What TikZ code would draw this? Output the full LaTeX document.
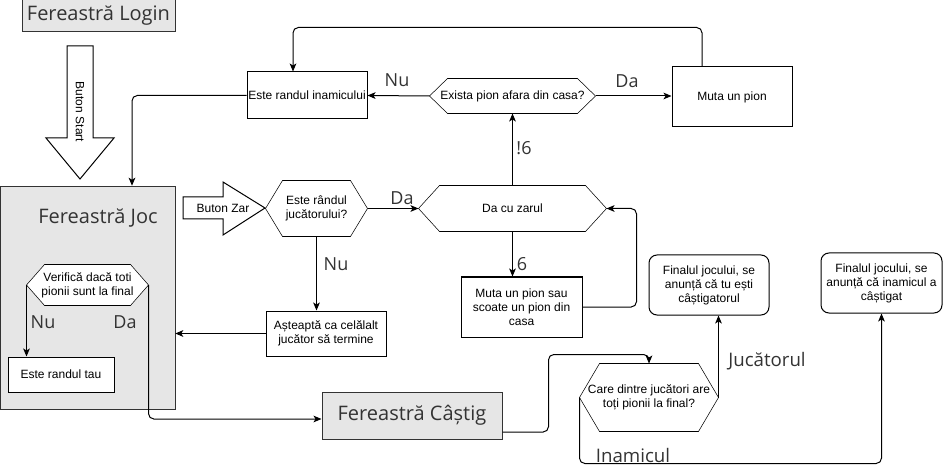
\documentclass[tikz,border=0pt]{standalone}
\usepackage{fontspec}
\setmainfont{Liberation Sans}
\newfontfamily\bigfont{Open Sans}
\usetikzlibrary{arrows.meta,calc,backgrounds}
\definecolor{winfill}{HTML}{E6E6E6}
\tikzset{
	dims/.style 2 args={minimum width=#1*0.75pt, minimum height=#2*0.75pt},
	box/.style={draw, inner sep=0pt, align=center, font=\fontsize{9}{10.5}\selectfont},
	window/.style={draw=black!80, fill=winfill, inner sep=0pt, text=black!80, font=\bigfont\fontsize{15}{18}\selectfont},
	finbox/.style={box, rounded corners=6pt},
	hexnode/.style={inner sep=0pt, align=center, font=\fontsize{9}{10.5}\selectfont},
	lbl/.style={text=black!80, font=\bigfont\fontsize{13.5}{16}\selectfont},
	conn/.style={-{Stealth[length=6pt,width=5pt,inset=1.5pt]}, rounded corners=4pt},
	bigarrow/.style={draw, fill=white, line join=miter}
}
% hexagon border round a node: name, depth of the point
\newcommand\hexa[2]{%
	\begin{scope}[on background layer]
		\filldraw[fill=white] (#1.west) -- ($(#1.north west)+(#2,0)$) -- ($(#1.north east)+(-#2,0)$)
			-- (#1.east) -- ($(#1.south east)+(-#2,0)$) -- ($(#1.south west)+(#2,0)$) -- cycle;
	\end{scope}}
\begin{document}
\begin{tikzpicture}[x=0.75pt, y=-0.75pt, line width=0.75pt]
	\useasboundingbox (0,0) rectangle (943,474);
	% windows
	\node[window, dims={153}{32}] at (98.5,16) (login) {Fereastră Login};
	\begin{scope}[on background layer]
		\node[window, dims={175}{223}] at (87.5,297.5) (joc) {};
	\end{scope}
	\node[text=black!80, font=\bigfont\fontsize{15}{18}\selectfont] at (98,218) (jocTitle) {Fereastră Joc};
	\node[window, dims={180}{47}] at (412,415.5) (castig) {Fereastră Câștig};
	% block arrows
	\draw[bigarrow] (67,46) -- (93,46) -- (93,138) -- (114,138) -- (80,179) -- (46,138) -- (67,138) -- cycle;
	\node[rotate=-90, font=\fontsize{9}{10.5}\selectfont] at (80,112) (btnStart) {Buton Start};
	\draw[bigarrow] (183,197) -- (223,197) -- (223,182) -- (265,208) -- (223,235) -- (223,219) -- (183,219) -- cycle;
	\node[font=\fontsize{9}{10.5}\selectfont] at (223,208) (btnZar) {Buton Zar};
	% inside the game window
	\node[hexnode, dims={121}{40}] at (87.5,285) (verif) {Verifică dacă toti\\pionii sunt la final};
	\hexa{verif}{18}
	\node[box, fill=white, dims={106}{35}] at (61,374.5) (tau) {Este randul tau};
	\node[lbl] at (43,322) (verifNu) {Nu};
	\node[lbl] at (125,322) (verifDa) {Da};
	% player turn
	\node[hexnode, dims={101}{55}] at (316.5,208.5) (jucator) {Este rândul\\jucătorului?};
	\hexa{jucator}{17}
	\node[hexnode, dims={187}{45}] at (512.5,208.5) (zar) {Da cu zarul};
	\hexa{zar}{21}
	\node[box, dims={120}{45}] at (326,333.5) (asteapta) {Așteaptă ca celălalt\\jucător să termine};
	\node[box, dims={121}{60}] at (521.5,307) (muta6) {Muta un pion sau\\scoate un pion din\\casa};
	\node[lbl] at (402,198) (jucDa) {Da};
	\node[lbl] at (336,264) (jucNu) {Nu};
	\node[lbl] at (522,264) (zar6) {6};
	\node[lbl] at (524,148) (zarNot6) {!6};
	% top row
	\node[hexnode, dims={165}{34}] at (512.5,96) (exista) {Exista pion afara din casa?};
	\hexa{exista}{18}
	\node[box, dims={120}{47}] at (307,95.5) (inamic) {Este randul inamicului};
	\node[box, dims={120}{60}] at (732,97) (mutaPion) {Muta un pion};
	\node[lbl] at (397,80) (existaNu) {Nu};
	\node[lbl] at (627,81) (existaDa) {Da};
	% end of game
	\node[hexnode, dims={138}{67}] at (649,397.5) (care) {Care dintre jucători are\\toți pionii la final?};
	\hexa{care}{20}
	\node[finbox, dims={120}{60}] at (709,285) (finTu) {Finalul jocului, se\\anunță că tu ești\\câștigatorul};
	\node[finbox, dims={121}{60}] at (881.5,283) (finInamic) {Finalul jocului, se\\anunță că inamicul a\\câștigat};
	\node[text=black!80, font=\bigfont\fontsize{14}{16}\selectfont] at (767,361) (lblJucator) {Jucătorul};
	\node[text=black!80, font=\bigfont\fontsize{14}{16}\selectfont] at (633,455) (lblInamic) {Inamicul};
	% connectors
	\draw[conn] (verif.west) -- (verif.west |- tau.north);
	\draw[conn] (verif.east) |- ($(castig.west)+(0,3.5)$);
	\draw[conn] (jucator.east) -- (zar.west);
	\draw[conn] (jucator.south) -- (jucator.south |- asteapta.north);
	\draw[conn] (asteapta.west) -- (asteapta.west -| joc.east);
	\draw[conn] (zar.south) -- (zar.south |- muta6.north);
	\draw[conn] (muta6.east) -- ++(54,0) |- (zar.east);
	\draw[conn] (zar.north) -- (exista.south);
	\draw[conn] (exista.west) -- (inamic.east);
	\draw[conn] (exista.east) -- (exista.east -| mutaPion.west);
	\draw[conn] ($(mutaPion.north)+(-30,0)$) -- ++(0,-39) -| ($(inamic.north)+(-14,0)$);
	\draw[conn] (inamic.west) -| ($(joc.north)+(44.5,0)$);
	\draw[conn] ($(castig.east)+(0,16.5)$) -- ++(46,0) |- ($(care.north)+(0,-9)$) -- (care.north);
	\draw[conn] (care.east) -- (care.east |- finTu.south);
	\draw[conn] (care.west) -- ++(0,66) -| (finInamic.south);
\end{tikzpicture}
\end{document}
